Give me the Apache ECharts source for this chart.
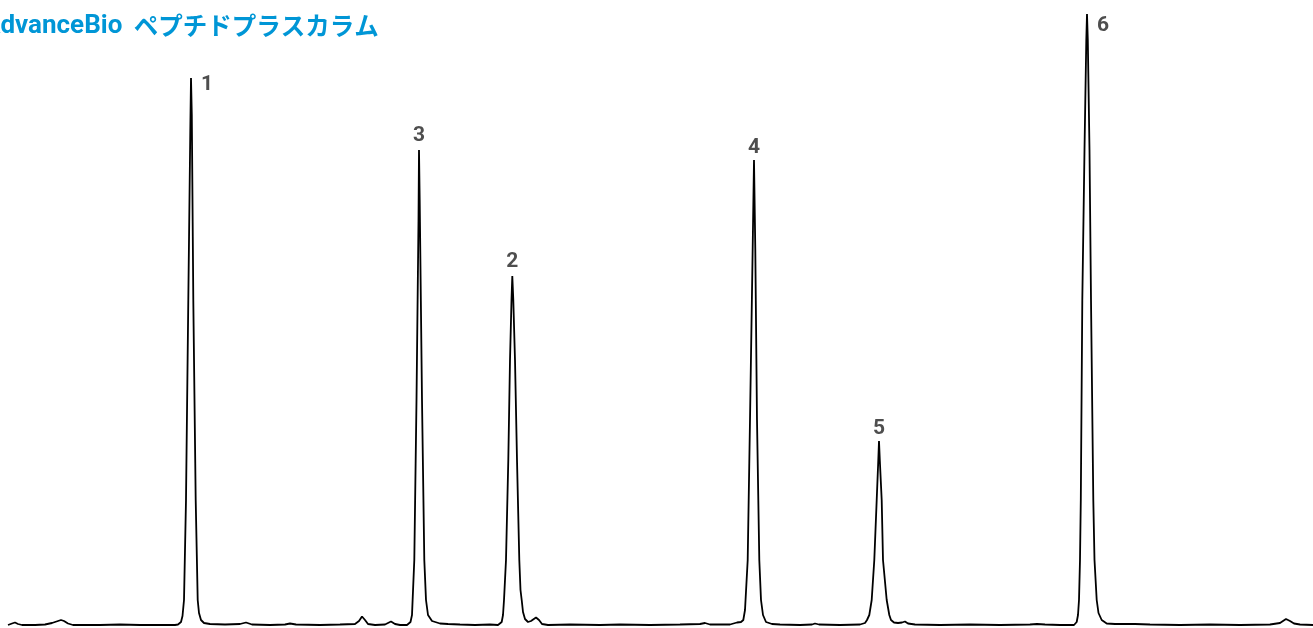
<!DOCTYPE html>
<html>
<head>
<meta charset="utf-8">
<script src="https://cdn.jsdelivr.net/npm/echarts@6/dist/echarts.min.js"></script>
<style>html,body{margin:0;padding:0;background:#fff;}#c{width:1313px;height:628px;}</style>
</head>
<body>
<div id="c"></div>
<script>
// Chromatogram trace (retention time, signal)
var retentionTime = [
0.08,0.12,0.15,0.18,0.22,0.35,0.45,0.52,0.58,0.61,0.64,0.68,0.73,1.00,1.20,1.40,1.60,1.75,1.78,1.81,
1.825,1.84,1.86,1.883,1.903,1.91,1.918,1.933,1.957,1.977,1.99,2.01,2.04,2.10,2.25,2.40,2.46,2.52,2.70,2.85,
2.90,2.96,3.20,3.40,3.55,3.59,3.62,3.65,3.68,3.75,3.85,3.91,3.95,4.00,4.07,4.105,4.12,4.143,4.165,4.185,
4.19,4.197,4.22,4.243,4.26,4.28,4.32,4.40,4.48,4.60,4.75,4.90,4.98,5.017,5.03,5.04,5.06,5.083,5.10,5.115,
5.123,5.133,5.15,5.17,5.193,5.205,5.217,5.23,5.25,5.28,5.31,5.36,5.39,5.42,5.48,5.70,6.00,6.20,6.50,6.80,
7.00,7.05,7.10,7.30,7.37,7.41,7.433,7.45,7.477,7.50,7.525,7.54,7.553,7.57,7.593,7.61,7.63,7.66,7.72,7.80,
8.00,8.12,8.15,8.19,8.40,8.60,8.65,8.67,8.693,8.717,8.743,8.767,8.783,8.79,8.798,8.817,8.83,8.867,8.893,8.91,
8.94,8.98,9.02,9.05,9.08,9.15,9.40,9.70,10.00,10.30,10.37,10.45,10.60,10.74,10.767,10.78,10.79,10.80,10.808,10.823,
10.845,10.863,10.87,10.878,10.895,10.91,10.933,10.945,10.967,10.985,11.017,11.067,11.15,11.35,11.50,11.80,12.10,12.40,12.70,12.80,
12.86,12.90,12.94,13.00,13.13
];
var signal = [
0,1.5,2.5,1,0,0,0.5,2,4,5,4,1.5,0,0,0.5,0,0,0,0.5,3,
9,25,125,325,495,547,510,325,125,25,12,5,2,1,0.5,1,2.5,0.5,0,0.5,
1.5,0.5,0,0.5,1,4,8.5,5,1,0,0.5,3.5,1,0,0,3,10,65,225,405,
475,425,225,65,25,10,4,1.5,1,0.5,0,0.5,0,3,10,25,65,165,265,325,
349,325,265,165,65,35,25,13,6,3,4,7.5,5,1,0,0.5,0,0.5,0,0.5,
1,2,0.5,0.5,2.5,3,5,15,65,205,365,465,375,205,65,25,10,3,1,0.5,
0,0.5,1.5,0.5,0,0.5,2,5,10,25,65,125,165,184,165,125,65,25,10,5,
2.5,2,2.5,3.5,1.5,0.5,0,0.5,0,0.5,1,0.5,0,0,3,10,25,65,125,325,
475,585,611,585,475,325,125,65,25,12,5,1.5,1,1,0.5,0,0.5,0,0.5,2,
6,4,1.5,0.5,0
];
// Peak apexes and their labels
var peakTime = [1.91, 5.123, 4.19, 7.54, 8.79, 10.87];
var peakHeight = [547, 349, 475, 465, 184, 611];
var peakName = ['1', '2', '3', '4', '5', '6'];
var peakLabelSide = ['right', 'top', 'top', 'top', 'top', 'right'];
var titleLatin = 'AdvanceBio ';
var titleKana = 'ペプチドプラスカラム';

var trace = retentionTime.map(function (t, i) { return [t, signal[i]]; });
var peaks = peakTime.map(function (t, i) {
  var side = peakLabelSide[i];
  return {
    value: [t, peakHeight[i]],
    label: side === 'right'
      ? { position: 'right', distance: 10, offset: [0, i === 5 ? 12 : 7] }
      : { position: 'top', distance: i === 3 || i === 4 ? 2 : 4 }
  };
});

var chart = echarts.init(document.getElementById('c'), null, { renderer: 'canvas' });
chart.setOption({
  animation: false,
  backgroundColor: '#ffffff',
  title: {
    text: '{a|' + titleLatin + '}{b|' + titleKana + '}',
    left: -17,
    top: 8,
    padding: [5, 0, 5, 0],
    textStyle: {
      color: '#0096d6',
      rich: {
        a: {
          fontFamily: 'Roboto, sans-serif',
          fontSize: 26,
          fontWeight: 'bold',
          color: '#0096d6'
        },
        b: {
          fontFamily: '"Noto Sans CJK JP", sans-serif',
          fontSize: 24.5,
          fontWeight: 'bold',
          color: '#0096d6',
          padding: [0, 0, 0, 5]
        }
      }
    }
  },
  grid: { left: 0, right: 0, top: 0, bottom: 0 },
  xAxis: { type: 'value', min: 0, max: 13.13, show: false },
  yAxis: { type: 'value', min: -3, max: 625, show: false },
  series: [
    {
      type: 'line',
      data: trace,
      showSymbol: false,
      symbol: 'none',
      lineStyle: { color: '#000000', width: 1.8 },
      silent: true
    },
    {
      type: 'scatter',
      data: peaks,
      symbolSize: 0,
      label: {
        show: true,
        formatter: function (p) { return peakName[p.dataIndex]; },
        fontFamily: 'Roboto, sans-serif',
        fontSize: 21,
        fontWeight: 'bold',
        color: '#222222'
      },
      silent: true
    }
  ]
});
</script>
</body>
</html>
